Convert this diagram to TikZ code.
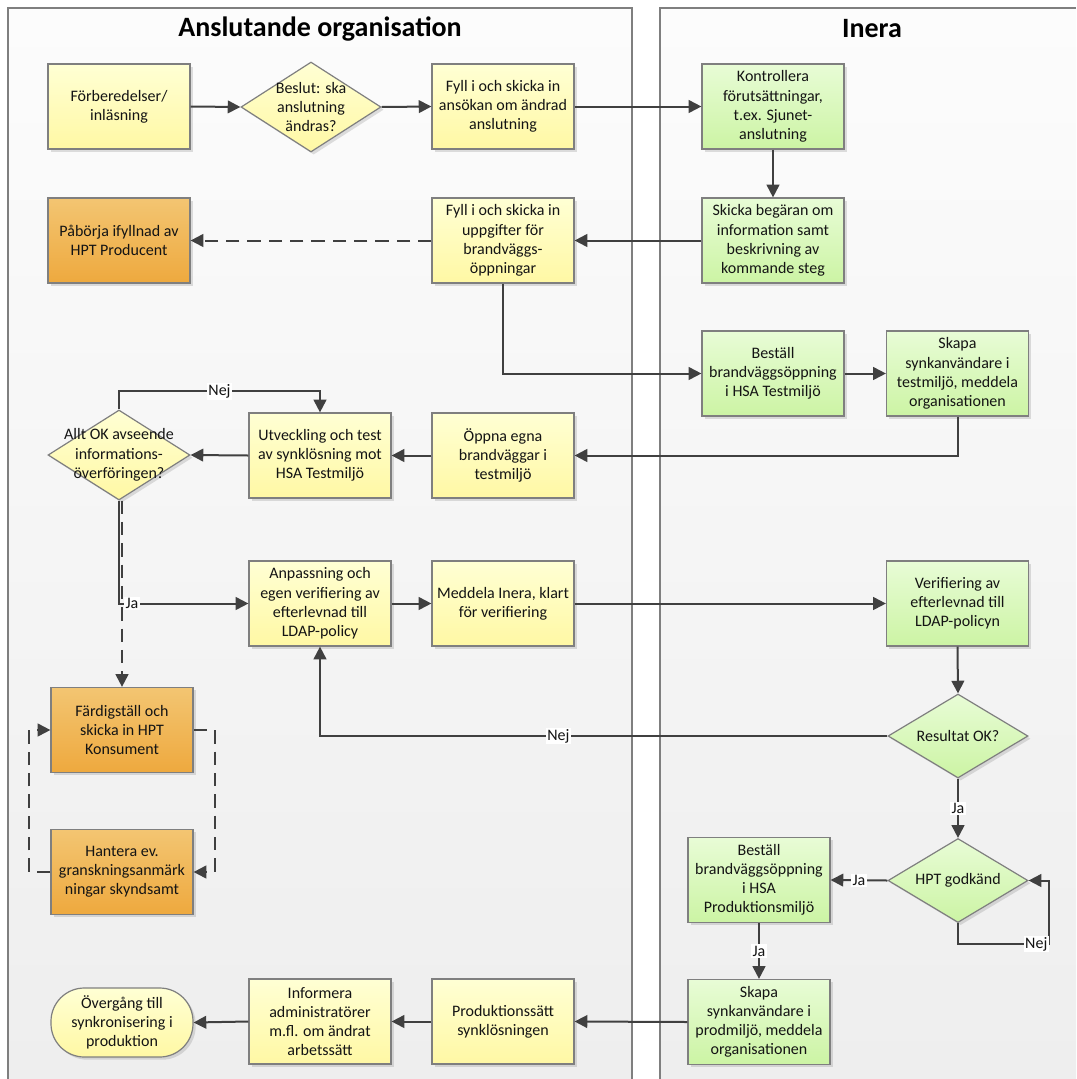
\documentclass[tikz,border=0pt]{standalone}
\usepackage{fontspec}
\setmainfont{Carlito}
\usetikzlibrary{shapes.geometric,arrows.meta,shadows,calc}
\definecolor{ylTop}{HTML}{FFFFD4}
\definecolor{ylBot}{HTML}{FFF8A4}
\definecolor{grTop}{HTML}{E8FCD6}
\definecolor{grBot}{HTML}{CCF4A4}
\definecolor{orTop}{HTML}{F3C572}
\definecolor{orBot}{HTML}{EEA93E}
\definecolor{lineC}{HTML}{404040}
\definecolor{bordC}{HTML}{7F7F7F}
\definecolor{laneTop}{HTML}{FCFCFC}
\definecolor{laneBot}{HTML}{EEEEEE}
\tikzset{
  txt/.style={font=\fontsize{12}{14.4}\selectfont, text=black!92},
  shad/.style={drop shadow={shadow xshift=2pt,shadow yshift=-2pt,opacity=0.25,fill=black!50}},
  box/.style={rectangle, draw=bordC, line width=0.9pt, minimum width=106.5pt, minimum height=63.75pt,
              inner sep=2pt, align=center, txt, shad},
  ybox/.style={box, top color=ylTop, bottom color=ylBot},
  gbox/.style={box, top color=grTop, bottom color=grBot},
  obox/.style={box, top color=orTop, bottom color=orBot},
  dia/.style={diamond, draw=bordC, line width=0.9pt, inner sep=0pt, minimum width=105pt,
              minimum height=67.5pt, shad},
  ydia/.style={dia, top color=ylTop, bottom color=ylBot},
  gdia/.style={dia, top color=grTop, bottom color=grBot},
  term/.style={rectangle, rounded corners=25pt, draw=bordC, line width=0.9pt, minimum width=106.5pt,
               minimum height=51.75pt, inner sep=2pt, align=center, txt, shad, top color=ylTop, bottom color=ylBot},
  conn/.style={draw=lineC, line width=1.5pt, -{Triangle[length=9.5pt,width=9.5pt]}},
  dconn/.style={conn, dash pattern=on 10pt off 6pt},
  lbl/.style={fill=white, inner sep=1pt, txt},
  lanetitle/.style={font=\fontsize{21}{25}\selectfont\bfseries, text=black}
}
\begin{document}
\begin{tikzpicture}[x=0.75pt,y=-0.75pt]
\useasboundingbox (0,0) rectangle (1076,1079);
% lanes
\shade[top color=laneTop, bottom color=laneBot] (8,8) rectangle (632,1079);
\draw[bordC, line width=0.9pt] (8,1079) -- (8,8) -- (632,8) -- (632,1079);
\shade[top color=laneTop, bottom color=laneBot] (660,8) rectangle (1076,1079);
\draw[bordC, line width=0.9pt] (660,1079) -- (660,8) -- (1076,8);
\node[lanetitle] (t1) at (320,29) {Anslutande organisation};
\node[lanetitle] (t2) at (872,29) {Inera};

% nodes
\node[ybox] (forb) at (119,106.5) {Förberedelser/\\inläsning};
\node[ydia, label={[txt,align=center]center:Beslut: ska\\anslutning\\ändras?}] (beslut) at (311,107) {};
\node[ybox] (ans) at (503,106.5) {Fyll i och skicka in\\ansökan om ändrad\\anslutning};
\node[gbox] (kontr) at (773,106.5) {Kontrollera\\förutsättningar,\\t.ex. Sjunet-\\anslutning};
\node[gbox] (skicka) at (773,240.5) {Skicka begäran om\\information samt\\beskrivning av\\kommande steg};
\node[ybox] (uppg) at (503,240.5) {Fyll i och skicka in\\uppgifter för\\brandväggs-\\öppningar};
\node[obox] (pab) at (119,240.5) {Påbörja ifyllnad av\\HPT Producent};
\node[gbox] (bestT) at (773,373.5) {Beställ\\brandväggsöppning\\i HSA Testmiljö};
\node[gbox] (skapaT) at (957.5,373.5) {Skapa\\synkanvändare i\\testmiljö, meddela\\organisationen};
\node[ybox] (oppna) at (503,455.5) {Öppna egna\\brandväggar i\\testmiljö};
\node[ybox] (utv) at (320,455.5) {Utveckling och test\\av synklösning mot\\HSA Testmiljö};
\node[ydia, minimum width=106.5pt, label={[txt,align=center]center:Allt OK avseende\\informations-\\överföringen?}] (allt) at (119,455) {};
\node[ybox] (anp) at (320,603.5) {Anpassning och\\egen verifiering av\\efterlevnad till\\LDAP-policy};
\node[ybox] (medd) at (503,603.5) {Meddela Inera, klart\\för verifiering};
\node[gbox] (verif) at (957.5,603.5) {Verifiering av\\efterlevnad till\\LDAP-policyn};
\node[gdia, minimum height=63pt, label={[txt]center:Resultat OK?}] (res) at (958,736) {};
\node[gdia, minimum height=63pt, label={[txt]center:HPT godkänd}] (hpt) at (958,880.5) {};
\node[gbox] (bestP) at (759,880) {Beställ\\brandväggsöppning\\i HSA\\Produktionsmiljö};
\node[gbox] (skapaP) at (759,1022) {Skapa\\synkanvändare i\\prodmiljö, meddela\\organisationen};
\node[ybox] (prodS) at (503,1021.5) {Produktionssätt\\synklösningen};
\node[ybox] (info) at (320,1021.5) {Informera\\administratörer\\m.fl. om ändrat\\arbetssätt};
\node[term] (overg) at (122,1022.5) {Övergång till\\synkronisering i\\produktion};
\node[obox] (fard) at (122,730) {Färdigställ och\\skicka in HPT\\Konsument};
\node[obox] (hant) at (122,872) {Hantera ev.\\granskningsanmärk\\ningar skyndsamt};
\coordinate (hl) at (1049,944);

% connectors
\draw[conn] (forb.east) -- (beslut.west);
\draw[conn] (beslut.east) -- (ans.west);
\draw[conn] (ans.east) -- (kontr.west);
\draw[conn] (kontr.south) -- (skicka.north);
\draw[conn] (skicka.west) -- (uppg.east);
\draw[dconn] (uppg.west) -- (pab.east);
\draw[conn] (uppg.south) |- (bestT.west);
\draw[conn] (bestT.east) -- (skapaT.west);
\draw[conn] (skapaT.south) |- (oppna.east);
\draw[conn] (oppna.west) -- (utv.east);
\draw[conn] (utv.west) -- (allt.east);
\draw[conn] (allt.north) -- ++(0,-18) -| node[lbl,pos=0.25]{Nej} (utv.north);
\draw[dconn] (allt.south -| fard.north) -- (fard.north);
\draw[conn] (allt.south) |- node[lbl,pos=0.55]{Ja} (anp.west);
\draw[conn] (anp.east) -- (medd.west);
\draw[conn] (medd.east) -- (verif.west);
\draw[conn] (verif.south) -- (res.north);
\draw[conn] (res.west) -| node[lbl,pos=0.29]{Nej} (anp.south);
\draw[conn] (res.south) -- node[lbl,pos=0.5]{Ja} (hpt.north);
\draw[conn] (hpt.west) -- node[lbl,pos=0.5]{Ja} (bestP.east);
\draw[conn] (hpt.south) |- node[lbl,pos=0.93]{Nej} (hl) |- (hpt.east);
\draw[conn] (bestP.south) -- node[lbl,pos=0.5]{Ja} (skapaP.north);
\draw[conn] (skapaP.west) -- (prodS.east);
\draw[conn] (prodS.west) -- (info.east);
\draw[conn] (info.west) -- (overg.east);
\draw[dconn] (fard.east) -- ++(21,0) |- (hant.east);
\draw[dconn] (hant.west) -- ++(-21,0) |- (fard.west);
\end{tikzpicture}
\end{document}
